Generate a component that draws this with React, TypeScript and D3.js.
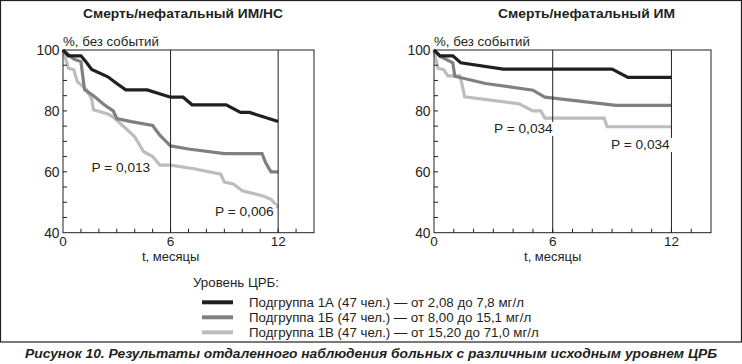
import React from 'react';
import * as d3 from 'd3';

// survival curves, [month, % event-free]
const leftA: [number, number][] = [
	[0, 100], [0.3, 98.1], [1.0, 98.1], [1.3, 96], [1.6, 93.6], [2.5, 91.2], [3.0, 89], [3.5, 86.9],
	[4.7, 86.9], [6.0, 84.5], [6.7, 84.5], [7.2, 82], [9.1, 82], [9.9, 79.5], [10.4, 79.5], [12, 76.5]
];
const leftB: [number, number][] = [
	[0, 100], [0.4, 98], [0.6, 97], [1.0, 96.2], [1.2, 87], [1.7, 85], [2.3, 82], [2.8, 80],
	[3.0, 77.5], [3.8, 76.5], [5.0, 75.2], [5.4, 72], [6.0, 68.5], [7.0, 67.5], [9.0, 66],
	[11.1, 66], [11.3, 63], [11.6, 60], [12, 60]
];
const leftC: [number, number][] = [
	[0, 100], [0.3, 94], [0.6, 93.5], [0.8, 89.6], [1.3, 87], [1.6, 84], [1.7, 80.4], [2.5, 79],
	[2.8, 78], [3.4, 74.8], [4.0, 71.5], [4.5, 66.6], [5.0, 65], [5.4, 62.2], [6.0, 62.2],
	[7.3, 61], [8.8, 59.2], [9.0, 56.6], [9.5, 56], [10.0, 53.8], [11.2, 52], [11.6, 51], [12, 48.3]
];
const rightA: [number, number][] = [
	[0, 100], [0.3, 98.1], [0.95, 98.1], [1.35, 95.8], [3.5, 93.7], [9.0, 93.7], [9.8, 91], [12, 91]
];
const rightB: [number, number][] = [
	[0, 100], [0.3, 98], [0.95, 95.8], [1.05, 91.4], [2.6, 89], [5.0, 86.8], [5.6, 84.5],
	[9.2, 81.8], [12, 81.8]
];
const rightC: [number, number][] = [
	[0, 100], [0.2, 94], [0.5, 93.5], [0.7, 91.5], [1.3, 91.5], [1.4, 89.3], [1.55, 84.6],
	[4.3, 82.3], [5.0, 80], [5.4, 80], [5.6, 77.6], [8.6, 77.6], [8.75, 74.8], [12, 74.8]
];

const yTicks = [40, 60, 80, 100];
const xTicks = [0, 6, 12];
const legendTitle = 'Уровень ЦРБ:';
const legendLabels = [
	'Подгруппа 1А (47 чел.) — от 2,08 до 7,8 мг/л',
	'Подгруппа 1Б (47 чел.) — от 8,00 до 15,1 мг/л',
	'Подгруппа 1В (47 чел.) — от 15,20 до 71,0 мг/л'
];
const colors = ['#231f20', '#808080', '#bdbdbd'];
const font = '"Liberation Sans", Arial, sans-serif';

type PanelProps = {
	title: string;
	titleX: number;
	titleW: number;
	left: number;
	right: number;
	series: [number, number][][];
	pLabels: { text: string; x: number; y: number }[];
};

const Panel = ({ title, titleX, titleW, left, right, series, pLabels }: PanelProps) => {
	const top = 50;
	const bottom = 232.7;
	const x = d3.scaleLinear().domain([0, 14]).range([left, right]);
	const y = d3.scaleLinear().domain([40, 100]).range([bottom, top]);
	const line = d3
		.line<[number, number]>()
		.x((d) => x(d[0]))
		.y((d) => y(d[1]));

	return (
		<g fontFamily={font}>
			<text
				x={titleX}
				y={17.5}
				textAnchor="middle"
				fontSize={12.5}
				fontWeight="bold"
				fill="#231f20"
				textLength={titleW}
				lengthAdjust="spacingAndGlyphs"
			>
				{title}
			</text>
			<text x={x(0)} y={45.5} fontSize={13.3} fill="#231f20">%, без событий</text>

			{/* curves, light first so dark sits on top */}
			{series
				.map((s, i) => ({ s, i }))
				.reverse()
				.map(({ s, i }) => (
					<path key={i} d={line(s) || ''} fill="none" stroke={colors[i]} strokeWidth={3.2} strokeLinejoin="miter" />
				))}

			{/* frame */}
			<rect x={x(0)} y={top} width={x(14) - x(0)} height={bottom - top} fill="none" stroke="#231f20" strokeWidth={1} />
			<line x1={x(6)} x2={x(6)} y1={top} y2={bottom} stroke="#231f20" />
			<line x1={x(12)} x2={x(12)} y1={top} y2={bottom} stroke="#231f20" />

			{/* minor ticks */}
			{d3.range(1, 14).map((m) => (
				<line key={'xt' + m} x1={x(m)} x2={x(m)} y1={bottom} y2={bottom - 4} stroke="#231f20" />
			))}
			{d3.range(45, 100, 5).map((v) => (
				<line key={'yt' + v} x1={x(0)} x2={x(0) + 4} y1={y(v)} y2={y(v)} stroke="#231f20" />
			))}

			{yTicks.map((v) => (
				<text key={'yl' + v} x={x(0) - 3.5} y={y(v) + 5} textAnchor="end" fontSize={13.8} fill="#231f20">
					{v}
				</text>
			))}
			{xTicks.map((m) => (
				<text key={'xl' + m} x={x(m)} y={245.5} textAnchor="middle" fontSize={13.5} fill="#231f20">
					{m}
				</text>
			))}
			<text x={x(6)} y={261} textAnchor="middle" fontSize={13} fill="#231f20">t, месяцы</text>

			{pLabels.map((p) => (
				<g key={p.text + p.x}>
					<rect x={p.x - 1} y={p.y - 11} width={62} height={14} fill="#fff" />
					<text x={p.x} y={p.y} fontSize={13.7} fill="#231f20">{p.text}</text>
				</g>
			))}
		</g>
	);
};

export default function App() {
	return (
		<svg width={742} height={364} style={{ position: 'absolute', left: 0, top: 0, background: '#fff' }}>
			<rect x={0.5} y={0.5} width={741} height={341.5} fill="none" stroke="#231f20" strokeWidth={1.2} />
			<Panel
				title="Смерть/нефатальный ИМ/НС"
				titleX={183}
				titleW={200}
				left={63}
				right={314}
				series={[leftA, leftB, leftC]}
				pLabels={[
					{ text: 'P = 0,013', x: 91.5, y: 172 },
					{ text: 'P = 0,006', x: 215, y: 216 }
				]}
			/>
			<Panel
				title="Смерть/нефатальный ИМ"
				titleX={586.5}
				titleW={177}
				left={434}
				right={711}
				series={[rightA, rightB, rightC]}
				pLabels={[
					{ text: 'P = 0,034', x: 494, y: 133 },
					{ text: 'P = 0,034', x: 611, y: 149 }
				]}
			/>

			<g fontFamily={font} fill="#231f20">
				<text x={193} y={287} fontSize={13.3}>{legendTitle}</text>
				{legendLabels.map((t, i) => (
					<g key={t}>
						<line x1={202} x2={233} y1={302.3 + i * 15} y2={302.3 + i * 15} stroke={colors[i]} strokeWidth={4} />
						<text x={249} y={306.5 + i * 15} fontSize={13.3}>{t}</text>
					</g>
				))}
			</g>

			<text
				x={371}
				y={358}
				textAnchor="middle"
				fontFamily={font}
				fontSize={13}
				fontWeight="bold"
				fontStyle="italic"
				fill="#231f20"
				textLength={692}
				lengthAdjust="spacingAndGlyphs"
			>
				Рисунок 10. Результаты отдаленного наблюдения больных с различным исходным уровнем ЦРБ
			</text>
		</svg>
	);
}
